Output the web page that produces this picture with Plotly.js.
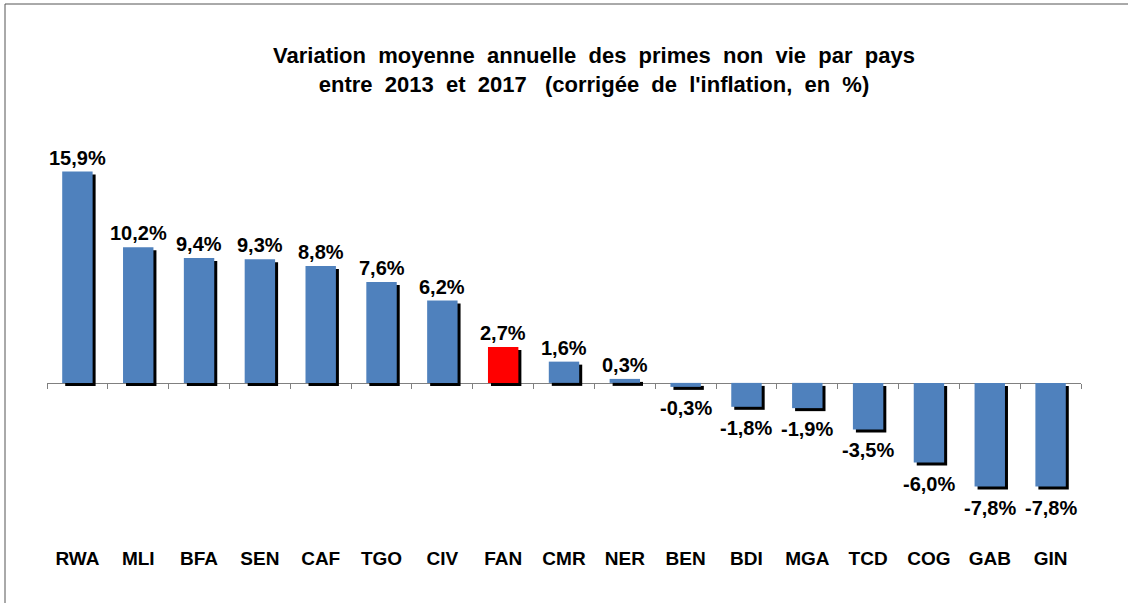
<!DOCTYPE html>
<html>
<head>
<meta charset="utf-8">
<script src="https://cdn.plot.ly/plotly-3.0.1.min.js"></script>
<style>html,body{margin:0;padding:0;background:#fff;}#chart{width:1128px;height:603px;}</style>
</head>
<body>
<div id="chart"></div>
<script>
var countries = ['RWA','MLI','BFA','SEN','CAF','TGO','CIV','FAN','CMR','NER','BEN','BDI','MGA','TCD','COG','GAB','GIN'];
var values = [15.9, 10.2, 9.4, 9.3, 8.8, 7.6, 6.2, 2.7, 1.6, 0.3, -0.3, -1.8, -1.9, -3.5, -6.0, -7.8, -7.8];
var highlight = 'FAN';
var titleLine1 = 'Variation\u00A0 moyenne\u00A0 annuelle\u00A0 des\u00A0 primes\u00A0 non\u00A0 vie\u00A0 par\u00A0 pays';
var titleLine2 = 'entre\u00A0 2013\u00A0 et\u00A0 2017\u00A0\u00A0 (corrigée\u00A0 de\u00A0 l\'inflation,\u00A0 en\u00A0 %)';

var blue = '#4F81BD', red = '#FF0000';
var yMin = -12.2, yMax = 17;
var W = 1128, H = 603, mL = 47, mR = 47, mT = 157, mB = 58;
var plotH = H - mT - mB, plotW = W - mL - mR;
var pxPerUnit = plotH / (yMax - yMin);
var pxPerCat = plotW / countries.length;
var shadowPx = 3;
var barW = 0.5;
var fontFam = 'Liberation Sans, Arial, sans-serif';

var colors = countries.map(function(c){ return c === highlight ? red : blue; });
var fmt = function(v){ return v.toFixed(1).replace('.', ',') + '%'; };

var shadow = {
  type: 'bar', x: countries, y: values,
  base: values.map(function(){ return -shadowPx / pxPerUnit; }),
  width: barW, offset: -barW/2 + shadowPx / pxPerCat,
  marker: {color: '#000000', line: {width: 0}},
  xaxis: 'x', yaxis: 'y', hoverinfo: 'skip', showlegend: false
};
var bars = {
  type: 'bar', x: countries, y: values,
  width: barW, offset: -barW/2,
  marker: {color: colors, line: {width: 0}},
  xaxis: 'x2', yaxis: 'y', showlegend: false,
  hovertemplate: '%{x}: %{y}%<extra></extra>'
};

var annotations = countries.map(function(c, i){
  var v = values[i];
  return {
    x: c, y: v, xref: 'x', yref: 'y', text: fmt(v), showarrow: false,
    xanchor: 'center', yanchor: v >= 0 ? 'bottom' : 'top',
    yshift: v >= 0 ? 1 : -8,
    font: {family: fontFam, size: 20, color: '#000', weight: 'bold'}
  };
});

var zeroPos = (0 - yMin) / (yMax - yMin);

var layout = {
  width: W, height: H,
  margin: {l: mL, r: mR, t: mT, b: mB, pad: 0},
  paper_bgcolor: '#ffffff', plot_bgcolor: '#ffffff',
  barmode: 'overlay',
  showlegend: false,
  title: {
    text: titleLine1 + '<br>' + titleLine2,
    font: {family: fontFam, size: 22, color: '#000', weight: 'bold'},
    x: (594 - mL) / plotW, xref: 'paper', xanchor: 'center',
    y: 1 - 63 / H, yref: 'container', yanchor: 'middle'
  },
  font: {family: fontFam, color: '#000'},
  xaxis: {
    type: 'category', categoryarray: countries, range: [-0.5, countries.length - 0.5],
    showline: false, showgrid: false, zeroline: false, ticks: '',
    tickfont: {family: fontFam, size: 19, color: '#000', weight: 'bold'},
    fixedrange: true
  },
  xaxis2: {
    type: 'category', categoryarray: countries, range: [-0.5, countries.length - 0.5],
    overlaying: 'x', anchor: 'free', position: zeroPos, side: 'bottom',
    showline: true, linecolor: '#808080', linewidth: 1,
    ticks: 'outside', tickson: 'boundaries', ticklen: 5, tickcolor: '#808080', tickwidth: 1,
    showticklabels: false, showgrid: false, zeroline: false, layer: 'below traces',
    fixedrange: true
  },
  yaxis: {
    range: [yMin, yMax], showgrid: false, zeroline: false, showline: false,
    showticklabels: false, ticks: '', fixedrange: true
  },
  annotations: annotations,
  shapes: [
    {type: 'line', xref: 'paper', yref: 'paper',
     x0: (5 - mL) / plotW, x1: (5 - mL) / plotW, y0: -(H + 20 - (H - mB)) / plotH, y1: 1 + (mT - 4) / plotH,
     line: {color: '#555555', width: 1}},
    {type: 'line', xref: 'paper', yref: 'paper',
     x0: (5 - mL) / plotW, x1: (W + 20 - mL) / plotW, y0: 1 + (mT - 4) / plotH, y1: 1 + (mT - 4) / plotH,
     line: {color: '#555555', width: 1}}
  ]
};

Plotly.newPlot('chart', [shadow, bars], layout, {displayModeBar: false, staticPlot: true});
</script>
</body>
</html>
